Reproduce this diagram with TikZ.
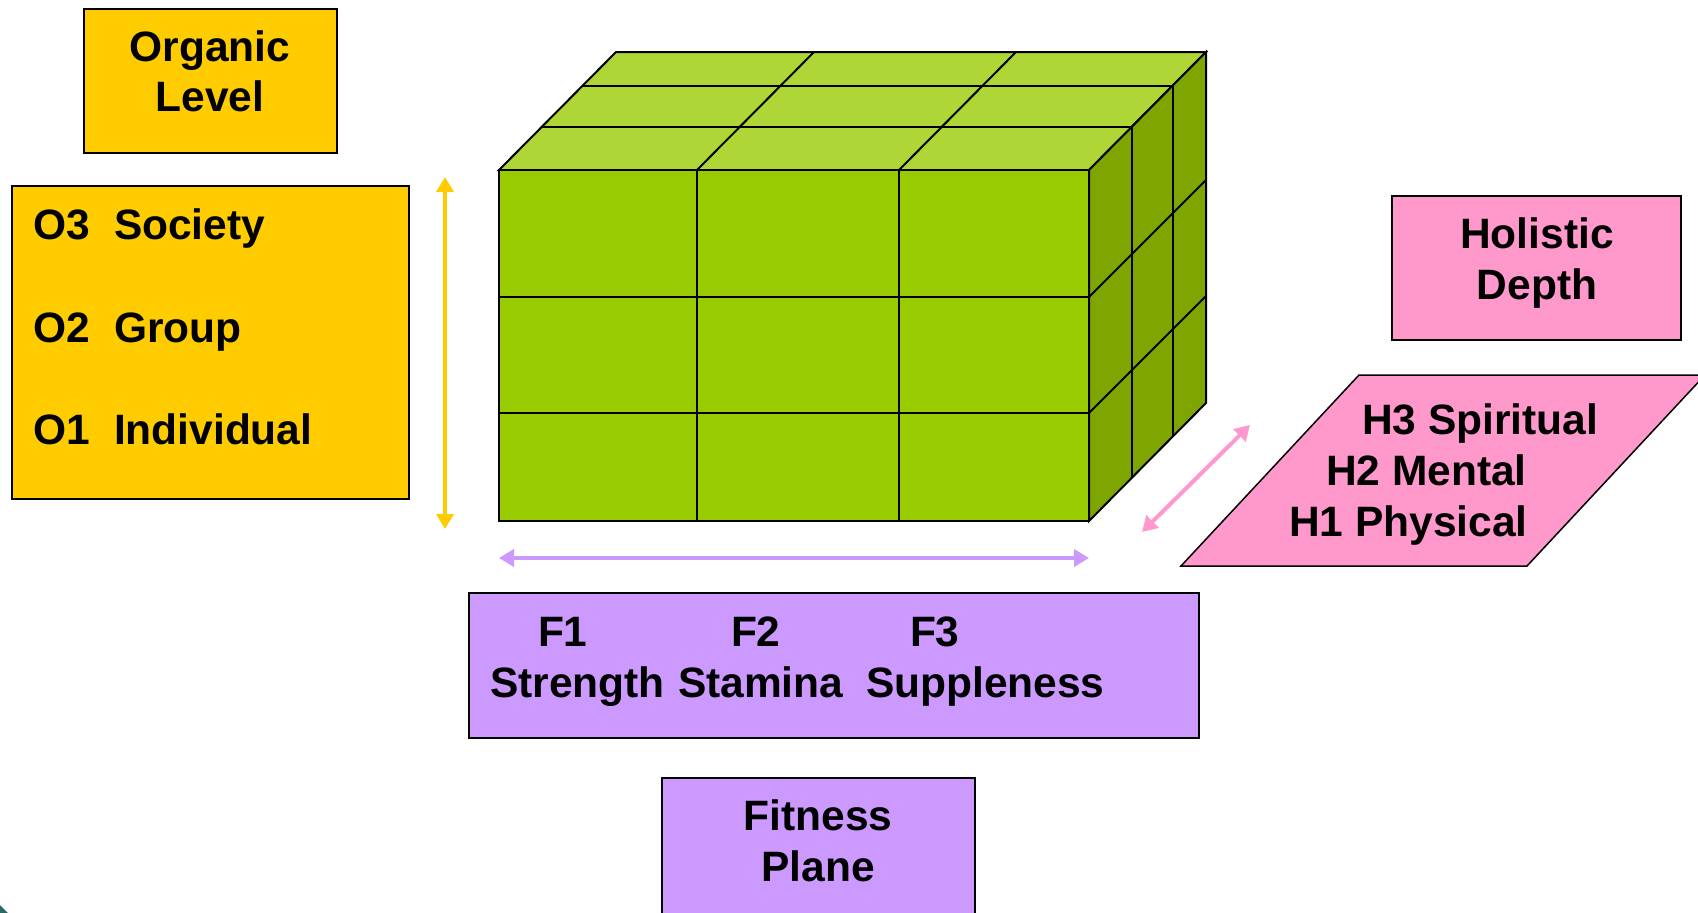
\documentclass[tikz,border=0pt]{standalone}
\usepackage{fontspec}
\setmainfont{Liberation Sans}
\usetikzlibrary{arrows.meta}
\definecolor{yel}{HTML}{FFCC00}
\definecolor{pnk}{HTML}{FF99CC}
\definecolor{prp}{HTML}{CC99FF}
\definecolor{gfront}{HTML}{99CC00}
\definecolor{gtop}{HTML}{AED636}
\definecolor{gside}{HTML}{7FA600}
\definecolor{teal}{HTML}{2B6A62}
\begin{document}
\begin{tikzpicture}[x=1pt,y=-1pt,
  every node/.style={inner sep=0pt, outer sep=0pt},
  box/.style={draw=black, line width=1.5pt, anchor=north west},
  lbl/.style={font=\fontsize{42.5}{51}\selectfont\bfseries, anchor=base},
  lblw/.style={font=\fontsize{42.5}{51}\selectfont\bfseries, anchor=base west},
  cube/.style={draw=black, line width=2pt, line join=miter},
  dbl/.style={line width=4.5pt, {Triangle[length=15pt,width=17pt]}-{Triangle[length=15pt,width=17pt]}}]
\useasboundingbox (0,0) rectangle (1698,913);

% corner mark
\fill[teal] (0,905) -- (8,913) -- (0,913) -- cycle;

% boxes
\node[box, fill=yel, minimum width=253pt, minimum height=144pt] (orgbox) at (84,9) {};
\node[box, fill=yel, minimum width=397pt, minimum height=313pt] (obox) at (12,186) {};
\node[box, fill=pnk, minimum width=289pt, minimum height=144pt] (hdbox) at (1392,196) {};
\node[box, fill=prp, minimum width=730pt, minimum height=145pt] (fbox) at (469,593) {};
\node[box, fill=prp, minimum width=313pt, minimum height=145pt] (fpbox) at (662,778) {};
\filldraw[fill=pnk, draw=black, line width=1.5pt] (1181,566) -- (1527,566) -- (1705,375) -- (1359,375) -- cycle;

% cube: top face
\filldraw[cube, fill=gtop] (499,170) -- (1089,170) -- (1206,52) -- (616,52) -- cycle;
\draw[cube] (542,127) -- (1132,127);
\draw[cube] (583,86) -- (1173,86);
\draw[cube] (697,170) -- (814,52);
\draw[cube] (899,170) -- (1016,52);
% side face
\filldraw[cube, fill=gside] (1089,170) -- (1206,52) -- (1206,403) -- (1089,521) -- cycle;
\draw[cube] (1132,127) -- (1132,478);
\draw[cube] (1173,86) -- (1173,437);
\draw[cube] (1089,297) -- (1206,180);
\draw[cube] (1089,413) -- (1206,296);
% front face
\filldraw[cube, fill=gfront] (499,170) rectangle (1089,521);
\draw[cube] (697,170) -- (697,521);
\draw[cube] (899,170) -- (899,521);
\draw[cube] (499,297) -- (1089,297);
\draw[cube] (499,413) -- (1089,413);

% arrows
\coordinate (ya) at (445,177);
\coordinate (yb) at (445,529);
\draw[dbl, yel] (ya) -- (yb);
\coordinate (pa) at (499,558);
\coordinate (pb) at (1089,558);
\draw[dbl, prp, line width=4pt] (pa) -- (pb);
\coordinate (ka) at (1142,532);
\coordinate (kb) at (1250,425);
\draw[dbl, pnk, line width=4pt] (ka) -- (kb);

% texts
\node[lbl] (t1) at (210,61) {Organic};
\node[lbl] (t2) at (210,111) {Level};
\node[lblw] (o3) at (33,239) {O3};
\node[lblw] (o3t) at (114,239) {Society};
\node[lblw] (o2) at (33,342) {O2};
\node[lblw] (o2t) at (114,342) {Group};
\node[lblw] (o1) at (33,444) {O1};
\node[lblw] (o1t) at (114,444) {Individual};
\node[lbl] (h1) at (1537,248) {Holistic};
\node[lbl] (h2) at (1537,299) {Depth};
\node[lblw] (hh3) at (1362,434) {H3 Spiritual};
\node[lblw] (hh2) at (1326,485) {H2 Mental};
\node[lblw] (hh1) at (1289,536) {H1 Physical};
\node[lblw] (f1) at (538,646) {F1};
\node[lblw] (f2) at (731,646) {F2};
\node[lblw] (f3) at (910,646) {F3};
\node[lblw] (f1t) at (490,697) {Strength};
\node[lblw] (f2t) at (678,697) {Stamina};
\node[lblw] (f3t) at (866,697) {Suppleness};
\node[lbl] (p1) at (818,830) {Fitness};
\node[lbl] (p2) at (818,881) {Plane};
\end{tikzpicture}
\end{document}
